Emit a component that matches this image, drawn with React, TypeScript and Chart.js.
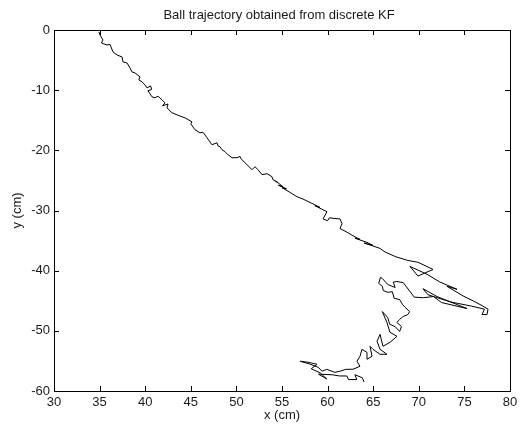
import React, { useEffect, useRef } from "react";
import { Chart, registerables } from "chart.js";

Chart.register(...registerables);

const chartTitle = "Ball trajectory obtained from discrete KF";
const xLabel = "x (cm)";
const yLabel = "y (cm)";
const xTicks = [30, 35, 40, 45, 50, 55, 60, 65, 70, 75, 80];
const yTicks = [0, -10, -20, -30, -40, -50, -60];

const trajX = [
  34.93, 35.04, 35.37, 35.2, 35.81, 36.14, 36.47, 36.91, 37.46, 37.57, 38.0, 38.33, 38.55, 38.88, 39.43, 39.3,
  39.65, 39.98, 40.2, 40.6, 40.7, 40.3, 40.53, 40.75, 41.07, 41.4, 41.84, 42.17, 41.9, 42.5, 42.39, 42.94,
  43.49, 43.82, 44.36, 45.13, 45.0, 45.46, 46.0, 46.34, 46.78, 47.32, 47.87, 48.0, 48.2, 48.42, 48.75, 49.08,
  49.52, 50.07, 50.39, 50.5, 50.61, 51.16, 51.71, 52.04, 52.37, 52.81, 53.36, 53.9, 54.01, 54.56, 54.3, 55.11,
  54.6, 55.5, 55.0, 55.88, 56.64, 57.3, 58.4, 59.17, 58.6, 59.93, 59.5, 60.0, 60.2, 60.59, 61.36, 61.58,
  61.36, 62.13, 62.79, 63.55, 63.0, 64.32, 64.98, 64.0, 65.75, 66.3, 67.5, 68.8, 69.9, 71.56, 69.91, 69.04,
  70.9, 72.32, 74.19, 73.09, 74.85, 75.94, 76.93, 77.59, 77.48, 76.93, 77.2, 75.8, 73.5, 71.0, 70.46, 72.0,
  75.29, 72.5, 71.6, 70.5, 69.5, 68.3, 67.6, 67.2, 67.4, 66.6, 66.0, 65.8, 65.6, 66.0, 66.1, 66.6,
  67.1, 67.3, 67.9, 68.2, 68.5, 69.0, 68.8, 68.3, 67.9, 67.6, 68.1, 67.9, 67.4, 66.8, 66.6, 66.0,
  66.5, 66.84, 67.61, 66.84, 66.07, 65.75, 65.42, 65.75, 66.51, 65.75, 64.98, 64.65, 64.87, 64.32, 64.32, 63.77,
  63.55, 63.22, 63.55, 62.79, 62.0, 61.4, 60.8, 59.9, 59.4, 58.95, 58.0, 57.0, 57.85, 58.84, 58.2, 59.2,
  59.9, 59.0, 60.5, 61.3, 62.1, 62.3, 63.2, 63.0, 63.8, 64.0,
];

const trajY = [
  -0.33, -0.83, -1.66, -2.16, -2.49, -2.4, -3.65, -4.15, -4.48, -5.31, -5.47, -6.3, -6.97, -7.13, -7.79, -8.3,
  -8.62, -9.12, -9.62, -9.3, -9.9, -10.1, -10.6, -11.11, -11.28, -11.0, -11.61, -12.11, -12.6, -12.3, -12.94, -13.76,
  -14.1, -14.3, -14.59, -15.26, -15.6, -16.58, -17.08, -17.0, -17.91, -19.07, -18.74, -19.3, -19.4, -19.9, -20.23, -20.73,
  -21.23, -21.23, -21.0, -21.4, -21.56, -22.39, -23.22, -22.72, -23.22, -24.05, -23.88, -24.38, -24.88, -25.37, -25.1, -26.04,
  -25.8, -26.4, -26.2, -27.0, -27.7, -28.1, -28.9, -29.5, -29.2, -30.2, -31.4, -31.7, -31.2, -31.3, -31.4, -32.2,
  -33.0, -33.6, -34.2, -34.8, -34.6, -35.3, -35.8, -35.4, -36.3, -36.9, -37.7, -38.3, -38.6, -39.8, -40.9, -39.3,
  -40.6, -41.9, -43.1, -42.6, -44.2, -45.0, -45.8, -46.4, -47.3, -47.3, -46.4, -45.9, -45.2, -44.0, -43.0, -44.3,
  -46.3, -45.3, -44.3, -44.5, -44.4, -42.0, -41.8, -41.9, -42.8, -42.3, -41.3, -41.1, -42.1, -42.6, -43.3, -43.6,
  -43.5, -44.6, -44.8, -45.6, -46.1, -46.8, -47.3, -47.6, -48.1, -48.6, -49.3, -50.1, -49.3, -48.9, -47.8, -46.8,
  -48.6, -50.25, -50.91, -51.91, -52.57, -50.58, -51.74, -53.07, -53.9, -53.9, -53.07, -52.57, -54.23, -54.73, -53.57, -53.07,
  -54.23, -55.06, -55.89, -56.38, -56.4, -56.7, -56.9, -56.4, -56.7, -56.05, -55.5, -55.06, -55.22, -55.56, -56.3, -57.0,
  -58.0, -57.2, -57.3, -57.5, -57.5, -58.1, -58.1, -57.3, -57.8, -58.5,
];

const FONT = "'Liberation Sans', Arial, sans-serif";
const TEXT = "#1a1a1a";
const FS = 13;

const framePlugin = {
  id: "matlabFrame",
  afterDraw(chart: any) {
    const { ctx, chartArea } = chart;
    const { left, right, top, bottom } = chartArea;
    const xs = chart.scales.x;
    const ys = chart.scales.y;
    ctx.save();
    ctx.strokeStyle = "#000";
    ctx.lineWidth = 1;
    ctx.beginPath();
    const tl = 5;
    xTicks.forEach((v) => {
      const p = Math.round(xs.getPixelForValue(v)) + 0.5;
      ctx.moveTo(p, bottom);
      ctx.lineTo(p, bottom - tl);
      ctx.moveTo(p, top);
      ctx.lineTo(p, top + tl);
    });
    yTicks.forEach((v) => {
      const p = Math.round(ys.getPixelForValue(v)) + 0.5;
      ctx.moveTo(left, p);
      ctx.lineTo(left + tl, p);
      ctx.moveTo(right, p);
      ctx.lineTo(right - tl, p);
    });
    ctx.stroke();
    ctx.strokeRect(Math.round(left) + 0.5, Math.round(top) + 0.5, Math.round(right - left), Math.round(bottom - top));
    ctx.fillStyle = TEXT;
    ctx.font = `${FS}px ${FONT}`;
    ctx.textAlign = "center";
    ctx.textBaseline = "middle";
    ctx.fillText(chartTitle, (left + right) / 2 - 3, 15);
    ctx.restore();
  },
};

export default function App() {
  const ref = useRef<HTMLCanvasElement | null>(null);
  useEffect(() => {
    if (!ref.current) return;
    const points = trajX.map((x, i) => ({ x, y: trajY[i] }));
    const chart = new Chart(ref.current, {
      type: "scatter",
      data: {
        datasets: [
          {
            data: points,
            showLine: true,
            borderColor: "#000",
            borderWidth: 1,
            pointRadius: 0,
            tension: 0,
            fill: false,
          },
        ],
      },
      options: {
        responsive: false,
        animation: false,
        events: [],
        layout: { padding: { top: 30, right: 17, left: 0, bottom: 0 } },
        plugins: { legend: { display: false }, title: { display: false }, tooltip: { enabled: false } },
        scales: {
          x: {
            type: "linear",
            min: 30,
            max: 80,
            afterBuildTicks: (s: any) => {
              s.ticks = xTicks.map((v) => ({ value: v }));
            },
            afterFit: (s: any) => {
              s.height = 40;
            },
            grid: { display: false, drawTicks: false },
            border: { display: false },
            ticks: { color: TEXT, font: { family: FONT, size: FS }, padding: 4, maxRotation: 0, autoSkip: false },
            title: { display: true, text: xLabel, color: TEXT, font: { family: FONT, size: FS }, padding: { top: 0, bottom: 8 } },
          },
          y: {
            type: "linear",
            min: -60,
            max: 0,
            afterBuildTicks: (s: any) => {
              s.ticks = yTicks.map((v) => ({ value: v }));
            },
            afterFit: (s: any) => {
              s.width = 54;
            },
            grid: { display: false, drawTicks: false },
            border: { display: false },
            ticks: { color: TEXT, font: { family: FONT, size: FS }, padding: 4, autoSkip: false },
            title: { display: true, text: yLabel, color: TEXT, font: { family: FONT, size: FS }, padding: { top: 10, bottom: 0 } },
          },
        },
      },
      plugins: [framePlugin],
    });
    return () => chart.destroy();
  }, []);
  return (
    <div style={{ position: "absolute", left: 0, top: 0, width: 527, height: 431, background: "#fff" }}>
      <canvas ref={ref} width={527} height={431} style={{ display: "block" }} />
    </div>
  );
}
